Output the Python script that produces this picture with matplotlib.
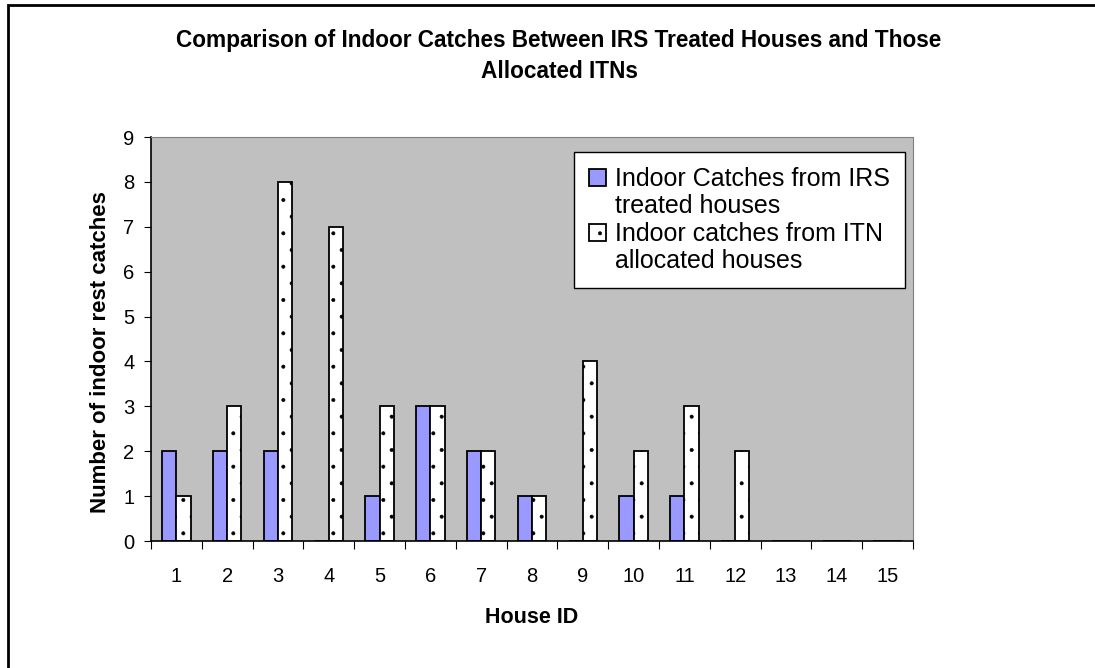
import numpy as np
import matplotlib.pyplot as plt
from matplotlib.patches import Rectangle

plt.rcParams['font.family'] = ['Liberation Sans', 'DejaVu Sans']
plt.rcParams['hatch.color'] = '#9a8890'
plt.rcParams['hatch.linewidth'] = 0.4

house_ids = list(range(1, 16))
irs_catches = [2, 2, 2, 0, 1, 3, 2, 1, 0, 1, 1, 0, 0, 0, 0]
itn_catches = [1, 3, 8, 7, 3, 3, 2, 1, 4, 2, 3, 2, 0, 0, 0]
irs_label = ['Indoor Catches from IRS', 'treated houses']
itn_label = ['Indoor catches from ITN', 'allocated houses']

fig = plt.figure(figsize=(10.95, 6.68), dpi=100)
ax = fig.add_axes([0.1379, 0.1901, 0.6959, 0.6048])
ax.set_facecolor('#C0C0C0')

# outer chart border (right/bottom edges lie outside the picture)
fig.patches.append(Rectangle((8 / 1095, -0.05), 1.2, 1 - 5 / 668 + 0.05,
                             transform=fig.transFigure, fill=False,
                             edgecolor='black', linewidth=2))

x = np.arange(len(house_ids)) + 1
w = 0.28
b1 = ax.bar(x - w / 2, irs_catches, w, color='#9999FF', edgecolor='black', linewidth=1.3)
b2 = ax.bar(x + w / 2, itn_catches, w, color='white', edgecolor='black',
            linewidth=1.3, hatch='.')

ax.set_xlim(0.5, 15.5)
ax.set_ylim(0, 9)
ax.set_yticks(range(10))
ax.set_xticks(np.arange(0.5, 16, 1))
ax.set_xticklabels([])
ax.set_xticks(x, minor=True)
ax.set_xticklabels([str(h) for h in house_ids], minor=True, fontsize=14.5)
ax.tick_params(axis='x', which='minor', length=0, pad=19)
ax.tick_params(axis='x', which='major', length=6, direction='out', color='black')
ax.tick_params(axis='y', length=5, direction='out', labelsize=14.5, pad=7)

for s in ['top', 'right']:
    ax.spines[s].set_color('#808080')
for s in ['left', 'bottom']:
    ax.spines[s].set_color('black')
    ax.spines[s].set_linewidth(1.2)

ax.set_xlabel('House ID', fontsize=15.5, fontweight='bold', labelpad=14.5)
ax.set_ylabel('Number of indoor rest catches', fontsize=16, fontweight='bold')
ax.yaxis.set_label_coords(-0.052, 0.468)

fig.text(0.5105, 0.916, 'Comparison of Indoor Catches Between IRS Treated Houses and Those\nAllocated ITNs',
         ha='center', va='center', fontsize=16.3, fontweight='bold', linespacing=1.45)

# one legend row per label line, so the swatch sits on the first line
blank = Rectangle((0, 0), 1, 1, fill=False, edgecolor='none')
leg = ax.legend([b1[0], blank, b2[0], blank],
                [irs_label[0], irs_label[1], itn_label[0], itn_label[1]],
                loc='upper right', bbox_to_anchor=(0.9895, 0.963), fontsize=18,
                frameon=True, fancybox=False, framealpha=1, edgecolor='black',
                handlelength=0.68, handleheight=0.68, handletextpad=0.35,
                borderpad=0.6, labelspacing=0.14, borderaxespad=0)
leg.get_frame().set_linewidth(1.0)

fig.savefig('out.png', dpi=100)
